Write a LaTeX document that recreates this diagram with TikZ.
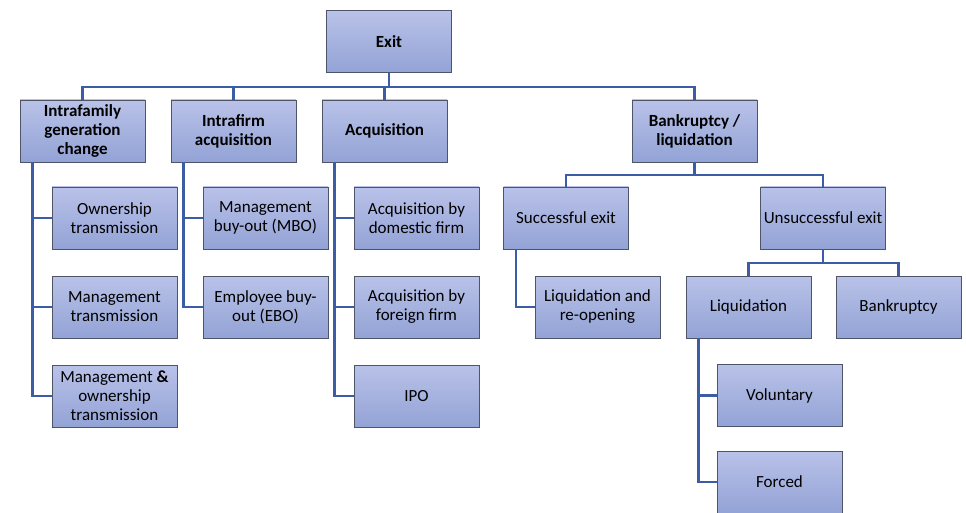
\documentclass[tikz,border=0pt]{standalone}
\usepackage{fontspec}
\setmainfont{Carlito}
\definecolor{boxtop}{HTML}{B9C2E8}
\definecolor{boxbot}{HTML}{93A3D6}
\definecolor{boxline}{HTML}{4E5569}
\definecolor{conncol}{HTML}{3D5CA6}
\tikzset{
  box/.style={rectangle, draw=boxline, line width=0.9pt, top color=boxtop, bottom color=boxbot,
    minimum width=125pt, minimum height=62pt, inner sep=1pt, align=center,
    font=\fontsize{17}{19}\selectfont, text=black},
  bbox/.style={box, font=\fontsize{17}{19}\selectfont\bfseries},
  conn/.style={draw=conncol, line width=2.2pt}
}
\begin{document}
\begin{tikzpicture}[x=1pt,y=-1pt]
\useasboundingbox (0,0) rectangle (966,513);
% buses
\coordinate (bus0) at (0,87);
\coordinate (bus1) at (0,175);
\coordinate (bus2) at (0,263);
% level 0/1
\node[bbox] (exit) at (389,41.5) {Exit};
\node[bbox] (fam) at (82.5,131) {Intrafamily\\generation\\change};
\node[bbox] (firm) at (233.5,131) {Intrafirm\\acquisition};
\node[bbox] (acq) at (384.5,131) {Acquisition};
\node[bbox] (bank) at (694.5,131) {Bankruptcy /\\liquidation};
% family children
\node[box] (own) at (114.5,218) {Ownership\\transmission};
\node[box] (mgt) at (114.5,307) {Management\\transmission};
\node[box] (mo) at (114.5,396) {Management \textbf{\&}\\ownership\\transmission};
% intrafirm children
\node[box] (mbo) at (265.5,218) {Management\\buy-out (MBO)};
\node[box] (ebo) at (265.5,307) {Employee buy-\\out (EBO)};
% acquisition children
\node[box] (dom) at (416.5,218) {Acquisition by\\domestic firm};
\node[box] (for) at (416.5,307) {Acquisition by\\foreign firm};
\node[box] (ipo) at (416.5,396) {IPO};
% bankruptcy children
\node[box] (succ) at (566,218) {Successful exit};
\node[box] (unsucc) at (823,218) {Unsuccessful exit};
\node[box] (liqre) at (597.5,307) {Liquidation and\\re-opening};
\node[box] (liq) at (748.5,307) {Liquidation};
\node[box] (bkr) at (898.5,307) {Bankruptcy};
\node[box] (vol) at (779.5,395.5) {Voluntary};
\node[box] (forced) at (779.5,482) {Forced};
% connectors level 0
\draw[conn] (exit.south) -- (exit.south |- bus0);
\draw[conn] (fam.north) |- (bus0 -| bank.north) -- (bank.north);
\draw[conn] (firm.north) -- (firm.north |- bus0);
\draw[conn] (acq.north) -- (acq.north |- bus0);
% family
\draw[conn] ([xshift=13pt]fam.south west) |- (mo.west);
\draw[conn] ([xshift=13pt]fam.south west |- own.west) -- (own.west);
\draw[conn] ([xshift=13pt]fam.south west |- mgt.west) -- (mgt.west);
% intrafirm
\draw[conn] ([xshift=13pt]firm.south west) |- (ebo.west);
\draw[conn] ([xshift=13pt]firm.south west |- mbo.west) -- (mbo.west);
% acquisition
\draw[conn] ([xshift=13pt]acq.south west) |- (ipo.west);
\draw[conn] ([xshift=13pt]acq.south west |- dom.west) -- (dom.west);
\draw[conn] ([xshift=13pt]acq.south west |- for.west) -- (for.west);
% bankruptcy
\draw[conn] (bank.south) -- (bank.south |- bus1);
\draw[conn] (succ.north) |- (bus1 -| unsucc.north) -- (unsucc.north);
\draw[conn] ([xshift=13pt]succ.south west) |- (liqre.west);
\draw[conn] (unsucc.south) -- (unsucc.south |- bus2);
\draw[conn] (liq.north) |- (bus2 -| bkr.north) -- (bkr.north);
\draw[conn] ([xshift=13pt]liq.south west) |- (forced.west);
\draw[conn] ([xshift=13pt]liq.south west |- vol.west) -- (vol.west);
\end{tikzpicture}
\end{document}
